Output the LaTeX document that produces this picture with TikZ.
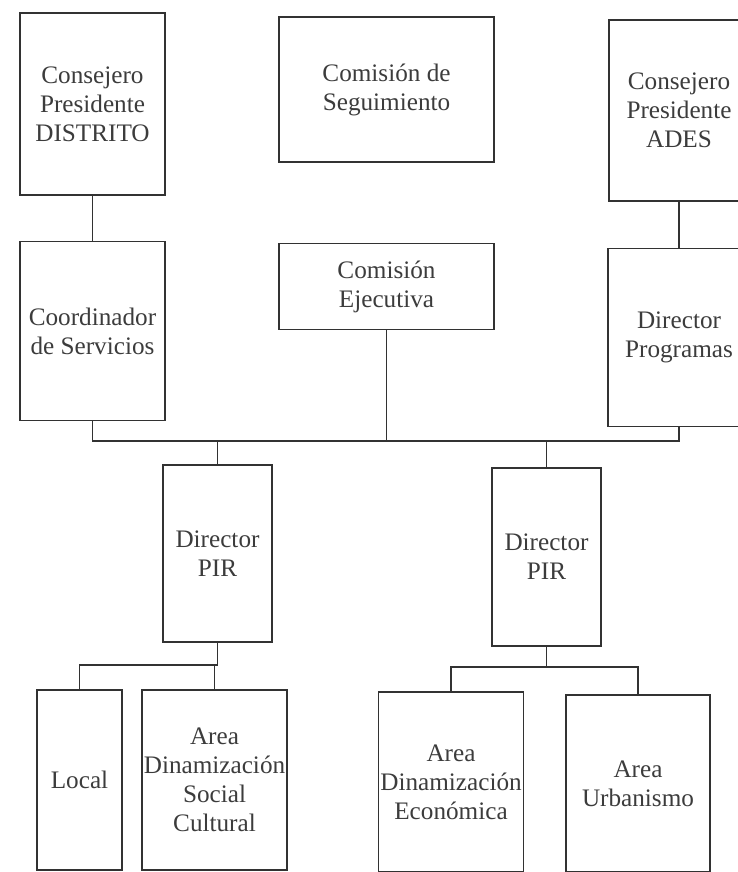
\documentclass[tikz,border=0pt]{standalone}
\usepackage{fontspec}
\setmainfont{Liberation Serif}
\usetikzlibrary{positioning}
\definecolor{inkgray}{RGB}{50,50,50}
\definecolor{textgray}{RGB}{60,60,60}

\begin{document}
\begin{tikzpicture}[x=0.5pt,y=-0.5pt,
            every node/.style={rectangle,draw=inkgray,align=center,text=textgray,
              font=\fontsize{12.6}{14.5}\selectfont,inner sep=1pt,line width=0.8pt},
            link/.style={draw=inkgray,line width=0.8pt}
        ]
        \useasboundingbox (0,0) rectangle (738,872);
        \clip (0,0) rectangle (738,872);
        % upper row
        \node [minimum width=72.5pt,minimum height=91pt] (distrito) at (92.5,104) {Consejero\\ Presidente\\ DISTRITO};
        \node [below=22.5pt of distrito,minimum width=72.5pt,minimum height=89.5pt] (coord) {Coordinador\\ de Servicios};
        \node [minimum width=107.5pt,minimum height=72.5pt] (seguim) at (386.5,89.5) {Comisión de\\ Seguimiento};
        \node [below=40pt of seguim,minimum width=107.5pt,minimum height=43pt] (ejec) {Comisión\\ Ejecutiva};
        \node [minimum width=70pt,minimum height=90.5pt] (ades) at (679,110.5) {Consejero\\ Presidente\\ ADES};
        \node [below=23pt of ades,minimum width=71pt,minimum height=89pt] (progr) {Director\\ Programas};
        % directores PIR
        \node [minimum width=54.5pt,minimum height=88.5pt] (pirA) at (217.5,553.5) {Director\\ PIR};
        \node [minimum width=54.5pt,minimum height=89pt] (pirB) at (546.5,557) {Director\\ PIR};
        % areas
        \node [minimum width=42.5pt,minimum height=90pt] (local) at (79.5,780) {Local};
        \node [minimum width=71.5pt,minimum height=90pt] (social) at (214.5,780) {Area\\ Dinamización\\ Social\\ Cultural};
        \node [minimum width=72pt,minimum height=90pt] (econ) at (451,782) {Area\\ Dinamización\\ Económica};
        \node [minimum width=72pt,minimum height=88.5pt] (urban) at (638,783.5) {Area\\ Urbanismo};

        \coordinate (top bus) at (0,441);
        \coordinate (bus A) at (0,665);
        \coordinate (bus B) at (0,667);

        \draw[link] (distrito) -- (coord);
        \draw[link] (ades) -- (progr);
        \draw[link] (coord.south) -- (coord.south |- top bus) -- (progr.south |- top bus) -- (progr.south);
        \draw[link] (ejec) -- (ejec.south |- top bus);
        \draw[link] (pirA) -- (pirA.north |- top bus);
        \draw[link] (pirB) -- (pirB.north |- top bus);
        \draw[link] (pirA) -- (pirA.south |- bus A) -| (local);
        \draw[link] (social) -- (social.north |- bus A);
        \draw[link] (econ.north) -- (econ.north |- bus B) -| (urban);
        \draw[link] (pirB) -- (pirB.south |- bus B);
    \end{tikzpicture}
\end{document}
